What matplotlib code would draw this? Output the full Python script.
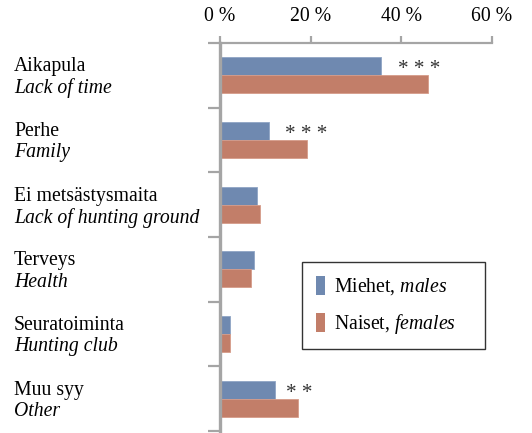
import numpy as np
import matplotlib.pyplot as plt
from matplotlib.patches import Patch, Rectangle
from matplotlib.ticker import FixedLocator

plt.rcParams['font.family'] = 'Liberation Serif'
plt.rcParams['mathtext.fontset'] = 'custom'
plt.rcParams['mathtext.rm'] = 'Liberation Serif'
plt.rcParams['mathtext.it'] = 'Liberation Serif:italic'

# data
reasons_fi = ["Aikapula", "Perhe", "Ei metsästysmaita", "Terveys", "Seuratoiminta", "Muu syy"]
reasons_en = ["Lack of time", "Family", "Lack of hunting ground", "Health", "Hunting club", "Other"]
males = [35.5, 10.7, 8.1, 7.5, 2.3, 12.1]
females = [45.8, 19.2, 8.8, 6.8, 2.3, 17.3]
stars = ["* * *", "* * *", "", "", "", "* *"]
xticks = [0, 20, 40, 60]

BLUE = "#6F89B0"
RED = "#C27E69"
GREY = "#A5A5A5"
FS = 14.2

fig = plt.figure(figsize=(5.32, 4.33), dpi=100)
ax = fig.add_axes([220/532, 1-431/433, (492-220)/532, (431-43)/433])

y = np.arange(len(reasons_fi))
h = 0.28
ax.barh(y - h/2, males, height=h, color=BLUE, edgecolor="#8FA5C4", linewidth=0.6)
ax.barh(y + h/2, females, height=h, color=RED, edgecolor="#D69C8A", linewidth=0.6)

ax.set_xlim(0, 60)
ax.set_ylim(len(reasons_fi) - 0.5, -0.5)

for s in ["right", "bottom"]:
    ax.spines[s].set_visible(False)
ax.spines["left"].set_color(GREY)
ax.spines["left"].set_linewidth(2.4)
ax.spines["top"].set_color(GREY)
ax.spines["top"].set_linewidth(1.6)

ax.xaxis.tick_top()
ax.set_xticks(xticks)
ax.set_xticklabels([f"{t} %" for t in xticks], fontsize=FS)
ax.tick_params(axis="x", direction="out", length=5, width=1.6, color=GREY, pad=7)

ax.set_yticks([])
ax.yaxis.set_minor_locator(FixedLocator(np.arange(-0.5, len(reasons_fi), 1)))
ax.tick_params(axis="y", which="minor", direction="out", length=8.5, width=1.6, color=GREY)

# two-line category labels
trans = ax.get_yaxis_transform()
for i, (fi, en) in enumerate(zip(reasons_fi, reasons_en)):
    ax.text(-206/272, i - 0.13, fi, transform=trans, fontsize=FS, va="center", ha="left")
    ax.text(-206/272, i + 0.2, en, transform=trans, fontsize=FS, va="center", ha="left",
            style="italic")

for i, s in enumerate(stars):
    if s:
        off = 8 if len(s) < 5 else 12
        ax.annotate(s, (males[i], i - h/2), xytext=(off, -2.5), textcoords="offset points",
                    fontsize=FS + 1, va="center", ha="left", color="#333333")

# legend box drawn separately so it can be wider than the entries
ax.add_patch(Rectangle((302/532, 1-349/433), 183/532, 87/433, transform=fig.transFigure,
                       facecolor="white", edgecolor="#333333", linewidth=1.0, zorder=4,
                       clip_on=False))
handles = [Patch(facecolor=BLUE), Patch(facecolor=RED)]
labels = [r"Miehet, $\mathit{males}$", r"Naiset, $\mathit{females}$"]
leg = ax.legend(handles, labels, loc="upper left", bbox_to_anchor=(302/532, 1-262/433),
                bbox_transform=fig.transFigure, fontsize=FS, frameon=False,
                handlelength=0.47, handleheight=1.1, handletextpad=0.45,
                labelspacing=0.75, borderpad=0.7, borderaxespad=0)
leg.set_zorder(6)

plt.savefig("out.png", dpi=100)
plt.close(fig)
